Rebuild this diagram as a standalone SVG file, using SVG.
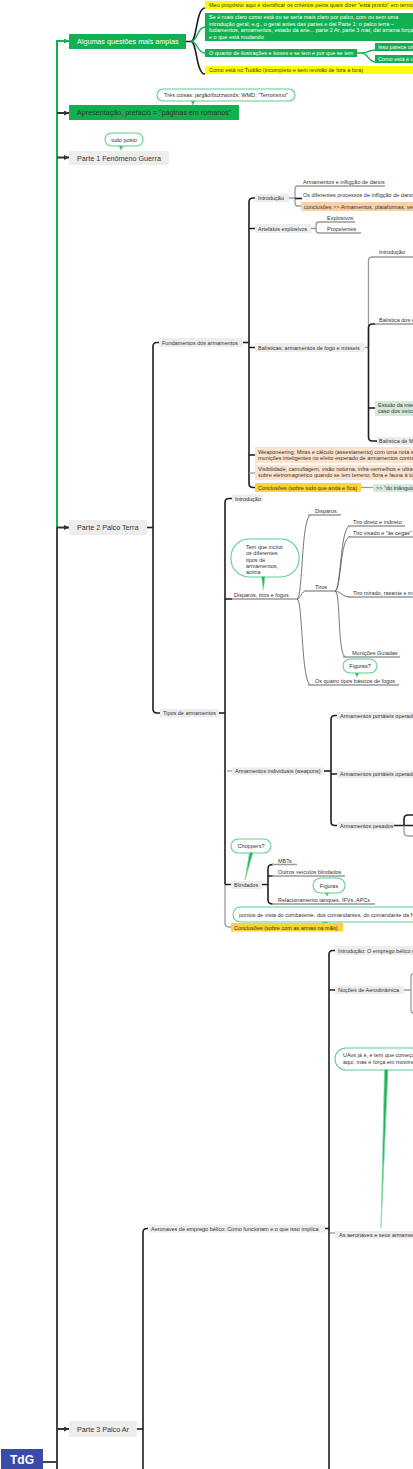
<svg xmlns="http://www.w3.org/2000/svg" width="413" height="1469" viewBox="0 0 413 1469">
<style>
text{font-family:"Liberation Sans",Arial,sans-serif;}
.s{font-size:5.5px;fill:#333}
.w{font-size:5.5px;fill:#fff}
.p{font-size:7.2px;fill:#333}
.pw{font-size:7.2px;fill:#fff}
.gbox{fill:#12b050}
.grey{fill:#ededed}
.yel{fill:#ffff00}
.gold{fill:#fbd531}
.orng{fill:#fcd0a3}
.lor{fill:#fde3cd}
.lgr{fill:#d3eada}
.blk{fill:none;stroke:#1e1e1e;stroke-width:1.6}
.gry{fill:none;stroke:#9a9a9a;stroke-width:1.3}
.thin{fill:none;stroke:#555;stroke-width:0.8}
.grn{fill:none;stroke:#12b050;stroke-width:1.3}
.call{fill:#fff;stroke:#5fcf8f;stroke-width:1.1}
.tail{fill:#1fb257;stroke:#86dcab;stroke-width:0.8}
</style>
<defs>
<marker id="ad" markerUnits="userSpaceOnUse" markerWidth="5" markerHeight="5" refX="5" refY="2.5" orient="auto"><path d="M0,0 L5,2.5 L0,5 z" fill="#333"/></marker>
<marker id="ag" markerUnits="userSpaceOnUse" markerWidth="5" markerHeight="5" refX="5" refY="2.5" orient="auto"><path d="M0,0 L5,2.5 L0,5 z" fill="#12b050"/></marker>
</defs>

<g id="connectors">
<path d="M57,527 V41 H69" fill="none" stroke="#12b050" stroke-width="2" marker-end="url(#ag)"/>
<path d="M57,527 V1469" fill="none" stroke="#444" stroke-width="2"/>
<path d="M57,113 H69" fill="none" stroke="#333" stroke-width="2" marker-end="url(#ad)"/>
<path d="M57,157.5 H69" fill="none" stroke="#333" stroke-width="2" marker-end="url(#ad)"/>
<path d="M57,527.5 H69" fill="none" stroke="#333" stroke-width="2" marker-end="url(#ad)"/>
<path d="M57,1429 H69" fill="none" stroke="#333" stroke-width="2" marker-end="url(#ad)"/>
<path d="M43,1462 H57" fill="none" stroke="#444" stroke-width="2"/>
<path class="blk" d="M186,41.5 H191 C197,41.5 196,8 205,8"/>
<path class="blk" d="M191,41.5 C197,41.5 196,74 205,74"/>
<path class="grn" d="M191,41.5 C198,41.5 197,27 205,27"/>
<path class="grn" d="M191,41.5 C198,41.5 197,53 205,53"/>
<path class="grn" d="M357,53 H362 C368,53 368,50 375,50"/>
<path class="grn" d="M362,53 C368,53 368,62 375,62"/>
<path class="blk" d="M147,527.5 H153"/>
<path class="blk" d="M159,342.5 H157 Q153,342.5 153,346.5 V709 Q153,713 157,713 H160"/>
<path class="blk" d="M243,342.5 H249"/>
<path class="blk" d="M255,198 H253 Q249,198 249,202 V483.5 Q249,487.5 253,487.5 H255"/>
<path class="blk" d="M249,228.5 H255 M249,347.5 H255 M249,455 H255"/>
<path class="gry" d="M249,473 H255"/>
<path class="gry" d="M361,487.5 H373"/>
<path class="gry" d="M289,198 H295 V189 Q295,186 298,186 H385"/>
<path class="gry" d="M295,198 V203 Q295,206 298,206 H301"/>
<path class="blk" d="M295,198.5 H302"/>
<path class="gry" d="M311,228.5 H316 V225 Q316,222 319,222 H355"/>
<path class="gry" d="M316,228.5 V230 Q316,233 319,233 H361"/>
<path class="gry" d="M365,347.5 H368.5 V261 Q368.5,257 372.5,257 H413"/>
<path class="blk" d="M368.5,347.5 V437 Q368.5,441 372.5,441 H377"/>
<path class="blk" d="M368.5,347.5 V328 Q368.5,324 372.5,324 H375"/>
<path class="gry" d="M375,324 H413"/>
<path class="blk" d="M368.5,408 H375"/>
<path class="blk" d="M219,713 H225"/>
<path class="blk" d="M232,498.5 H229 Q225,498.5 225,502.5 V884.5"/>
<path class="gry" d="M225,884.5 V923 Q225,927 229,927 H231"/>
<path class="blk" d="M225,599 H232 M225,884.5 H231"/>
<path class="gry" d="M232,599 H297"/>
<path class="gry" d="M227,771 H232"/>
<path class="thin" d="M297,599 C303,599 301,515 311,515"/>
<path class="thin" d="M297,599 C301,599 301,591 306,591"/>
<path class="thin" d="M297,599 C303,599 301,685 311,685"/>
<path class="gry" d="M308,515 H341 M305,591 H335 M308,685 H399"/>
<path class="thin" d="M335,591 C341,591 340,526 350,526"/>
<path class="thin" d="M335,591 C341,591 340,537 350,537"/>
<path class="thin" d="M335,591 C340,591 342,597 350,597"/>
<path class="thin" d="M335,591 C341,591 337,657 346,657"/>
<path class="gry" d="M348,526 H405 M348,537 H413 M348,597 H413 M343,657 H400"/>
<path class="blk" d="M324,771 H331"/>
<path class="blk" d="M337,715.5 H335 Q331,715.5 331,719.5 V821.5 Q331,825.5 335,825.5 H337 M331,774 H337"/>
<path class="blk" d="M394,825.5 H413 M413,815 H408 Q404,815 404,819 V825.5"/>
<path class="gry" d="M404,825.5 V832 Q404,836 408,836 H413"/>
<path class="blk" d="M262,884.5 H268 M273,864.5 Q268,864.5 268,868.5 V900 Q268,904 273,904 M268,876 H273"/>
<path class="gry" d="M272,864.5 H297 M272,876 H345 M272,904 H375"/>
<path class="blk" d="M137,1429 H143"/>
<path class="blk" d="M148,1228.5 H147 Q143,1228.5 143,1232.5 V1469"/>
<path class="blk" d="M325,1228.5 H329"/>
<path class="blk" d="M335,950.5 H333 Q329,950.5 329,954.5 V1469 M329,990 H335"/>
<path class="gry" d="M404,990 H411 M413,974 Q411,974 411,977 V1010 Q411,1013 413,1013"/>
<path class="gry" d="M330,1233 H335"/>
</g>

<g id="root"><rect x="1" y="1449" width="42" height="21" fill="#3b4ba8"/><text x="22" y="1464" text-anchor="middle" font-size="12" font-weight="bold" fill="#fff">TdG</text></g>

<g id="algumas"><rect class="gbox" x="69" y="34" width="117" height="15"/><text class="pw" x="77" y="44">Algumas questões mais amplas</text></g>
<g id="a1"><rect class="yel" x="205" y="1" width="210" height="8"/><text class="s" x="209" y="7" fill="#222">Meu propósito aqui é identificar os critérios pelos quais dizer "está pronto" em termos</text></g>
<g id="a2"><rect class="gbox" x="205" y="13" width="210" height="28"/>
<text class="w" x="209" y="19">Se é mais claro como está ou se seria mais claro por palco, com ou sem uma</text>
<text class="w" x="209" y="25.5">introdução geral; e.g., o geral antes das partes e daí Parte 1: o palco terra –</text>
<text class="w" x="209" y="32">fudamentos, armamentos, estado da arte... parte 2 Ar, parte 3 mar, daí arrama forças</text>
<text class="w" x="209" y="38.5">e o que está mudando</text></g>
<g id="a3"><rect class="gbox" x="205" y="49" width="152" height="8"/><text class="w" x="209" y="55">O quanto de ilustrações e boxes e se tem e por que se tem</text></g>
<g id="a31"><rect class="gbox" x="375" y="43" width="40" height="8"/><text class="w" x="378" y="49">Isso parece um</text></g>
<g id="a32"><rect class="gbox" x="375" y="55" width="40" height="8"/><text class="w" x="378" y="61">Como está é u</text></g>
<g id="a4"><rect class="yel" x="205" y="66" width="210" height="8"/><text class="s" x="209" y="72" fill="#222">Como está no Tudião (incompleto e sem revisão de fora a fora)</text></g>

<g id="c-tres"><rect class="call" x="157" y="89" width="138" height="12" rx="6"/><path class="tail" d="M191,101 L195,101 L193,105 z"/><text class="s" x="226" y="97" text-anchor="middle" fill="#222">Três coisas: jargão/buzzwords; WMD; "Terrorismo"</text></g>
<g id="apresentacao"><rect class="gbox" x="69" y="105" width="170" height="15"/><text class="p" x="77" y="115" fill="#1a1a1a">Apresentação, prefácio = "páginas em romanos"</text></g>

<g id="c-tudo"><rect class="call" x="105" y="133" width="38" height="13" rx="6.5"/><path class="tail" d="M119,146 L123,146 L121,150 z"/><text class="s" x="124" y="141.5" text-anchor="middle" fill="#222">tudo posto</text></g>
<g id="parte1"><rect class="grey" x="69" y="151" width="100" height="14"/><text class="p" x="77" y="160.5">Parte 1 Fenômeno Guerra</text></g>

<g id="parte2"><rect class="grey" x="69" y="520" width="78" height="15"/><text class="p" x="77" y="530">Parte 2 Palco Terra</text></g>
<g id="fundamentos"><rect class="grey" x="159" y="338" width="84" height="9"/><text class="s" x="162" y="344.5">Fundamentos dos armamentos</text></g>
<g id="f-intro"><rect class="grey" x="255" y="194" width="34" height="8"/><text class="s" x="258" y="200">Introdução</text></g>
<g id="f-intro1"><text class="s" x="303" y="184">Armamentos e infligção de danos</text></g>
<g id="f-intro2"><text class="s" x="303" y="197">Os diferentes processos de infligção de danos</text></g>
<g id="f-intro3"><rect class="orng" x="301" y="202" width="114" height="9"/><text class="s" x="304" y="208.5">conclusões &gt;&gt; Armamentos, plataformas, veículos</text></g>
<g id="f-artef"><rect class="grey" x="255" y="224" width="56" height="9"/><text class="s" x="258" y="230.5">Artefatos explosivos</text></g>
<g id="f-explo"><text class="s" x="327" y="220">Explosivos</text></g>
<g id="f-prop"><text class="s" x="327" y="231">Propelentes</text></g>
<g id="f-bal"><rect class="grey" x="255" y="343" width="110" height="9"/><text class="s" x="258" y="349.5">Balísticas: armamentos de fogo e mísseis</text></g>
<g id="b-intro"><text class="s" x="379" y="254">Introdução</text></g>
<g id="b-dosa"><text class="s" x="379" y="322">Balística dos Armamentos</text></g>
<g id="b-est"><rect class="lgr" x="375" y="401" width="40" height="15"/><text class="s" x="378" y="407">Estudo da interação</text><text class="s" x="378" y="413">caso dos veículos</text></g>
<g id="b-m"><rect class="grey" x="377" y="437" width="38" height="8"/><text class="s" x="379" y="443">Balística de Mísseis</text></g>
<g id="f-weap"><rect class="lor" x="255" y="447" width="160" height="16"/><text class="s" x="258" y="453.5">Weaponeering; Miras e cálculo (assestamento) com uma nota sobre</text><text class="s" x="258" y="459.5">munições inteligentes no efeito esperado de armamentos contra alvos</text></g>
<g id="f-vis"><rect class="lor" x="255" y="465" width="160" height="15"/><text class="s" x="258" y="470.5">Visibilidade, camuflagem, visão noturna, infra-vermelhos e ultra-violeta</text><text class="s" x="258" y="476.5">sobre eletromagnético quando se tem terreno, flora e fauna à toda volta</text></g>
<g id="f-concl"><rect class="gold" x="255" y="483" width="106" height="9"/><text class="s" x="258" y="489.5">Conclusões (sobre tudo que anda e fica)</text></g>
<g id="f-tri"><rect class="lgr" x="373" y="484" width="42" height="8"/><text class="s" x="376" y="490">&gt;&gt; "do triângulo</text></g>

<g id="tipos"><rect class="grey" x="160" y="709" width="59" height="8.5"/><text class="s" x="163" y="715.3">Tipos de armamentos</text></g>
<g id="t-intro"><rect class="grey" x="232" y="494.5" width="31" height="8"/><text class="s" x="235" y="500.5">Introdução</text></g>
<g id="t-disp"><text class="s" x="234" y="597">Disparos, tiros e fogos</text></g>
<g id="c-tem"><rect class="call" x="231" y="539" width="68" height="38" rx="18"/><path class="tail" d="M261.5,576.5 L265,576.5 L263.3,590 z"/>
<text class="s" x="246" y="549" fill="#222">Tem que incluir</text><text class="s" x="246" y="555" fill="#222">os diferentes</text><text class="s" x="246" y="561.5" fill="#222">tipos de</text><text class="s" x="246" y="567.5" fill="#222">armamentos,</text><text class="s" x="246" y="573.5" fill="#222">acima</text></g>
<g id="d-disp"><text class="s" x="315" y="512.5">Disparos</text></g>
<g id="d-tiros"><text class="s" x="315" y="589">Tiros</text></g>
<g id="d-quatro"><text class="s" x="315" y="683">Os quatro tipos básicos de fogos</text></g>
<g id="ti-1"><text class="s" x="353" y="524">Tiro direto e indireto</text></g>
<g id="ti-2"><text class="s" x="353" y="535">Tiro visado e "às cegas"</text></g>
<g id="ti-3"><text class="s" x="353" y="595">Tiro mirado, rasante e mergulhante</text></g>
<g id="ti-4"><text class="s" x="352" y="655" fill="#2aa6a6">Munições Guiadas</text></g>
<g id="c-fig1"><rect class="call" x="343" y="659" width="34" height="14" rx="7"/><path class="tail" d="M355,673 L359,673 L357,677 z"/><text class="s" x="360" y="668" text-anchor="middle" fill="#222">Figuras?</text></g>
<g id="t-indiv"><rect class="grey" x="232" y="767.5" width="92" height="7.5"/><text class="s" x="235" y="773.3">Armamentos individuais (weapons)</text></g>
<g id="i-1"><rect class="grey" x="337" y="712" width="78" height="7.5"/><text class="s" x="340" y="717.8">Armamentos portáteis operados</text></g>
<g id="i-2"><rect class="grey" x="337" y="770.5" width="78" height="7.5"/><text class="s" x="340" y="776.3">Armamentos portáteis operados</text></g>
<g id="i-3"><rect class="grey" x="337" y="822" width="57" height="7.5"/><text class="s" x="340" y="827.8">Armamentos pesados</text></g>
<g id="c-chop"><rect class="call" x="231" y="839" width="40" height="14" rx="7"/><path class="tail" d="M249.5,852.5 L253,852.5 L245,880 z"/><text class="s" x="251" y="848" text-anchor="middle" fill="#222">Choppers?</text></g>
<g id="t-blind"><rect class="grey" x="231" y="881" width="31" height="8"/><text class="s" x="234" y="887">Blindados</text></g>
<g id="bl-1"><text class="s" x="278" y="862.5">MBTs</text></g>
<g id="bl-2"><text class="s" x="278" y="874">Outros veículos blindados</text></g>
<g id="c-fig2"><rect class="call" x="313" y="878" width="32" height="15" rx="7.5"/><path class="tail" d="M325,893 L329,893 L327,896 z"/><text class="s" x="329" y="887.5" text-anchor="middle" fill="#222">Figuras</text></g>
<g id="bl-3"><text class="s" x="278" y="902">Relacionamento tanques, IFVs, APCs</text></g>
<g id="c-pontos"><rect class="call" x="233" y="907" width="195" height="15" rx="7.5"/><path class="tail" d="M322,922 L328,922 L325,926 z"/><text class="s" x="239" y="916.5" fill="#222">pontos de vista do combatente, dos comandantes, do comandante da Nação</text></g>
<g id="t-concl"><rect class="gold" x="231" y="923" width="112" height="8.5"/><text class="s" x="234" y="929.5">Conclusões (sobre com as armas na mão)</text></g>

<g id="parte3"><rect class="grey" x="69" y="1421" width="68" height="16"/><text class="p" x="77" y="1431.5">Parte 3 Palco Ar</text></g>
<g id="aeronaves"><rect class="grey" x="148" y="1224.5" width="177" height="8"/><text class="s" x="151" y="1230.5">Aeronaves de emprego bélico: Como funcionam e o que isso implica</text></g>
<g id="ae-intro"><rect class="grey" x="335" y="946" width="80" height="9"/><text class="s" x="338" y="952.5">Introdução: O emprego bélico de</text></g>
<g id="ae-noc"><rect class="grey" x="335" y="986" width="69" height="8"/><text class="s" x="338" y="992">Noções de Aerodinâmica</text></g>
<g id="c-uav"><rect class="call" x="335" y="1048" width="95" height="22" rx="11"/><path class="tail" d="M384.5,1069.5 L388,1069.5 L381,1228 z"/><text class="s" x="343" y="1057" fill="#222">UAvs já é, e tem que começar</text><text class="s" x="343" y="1064" fill="#222">aqui, mas é força em movimento</text></g>
<g id="ae-arm"><rect class="grey" x="335" y="1231" width="80" height="7.5"/><text class="s" x="339" y="1237">As aeronaves e seus armamentos</text></g>
</svg>
